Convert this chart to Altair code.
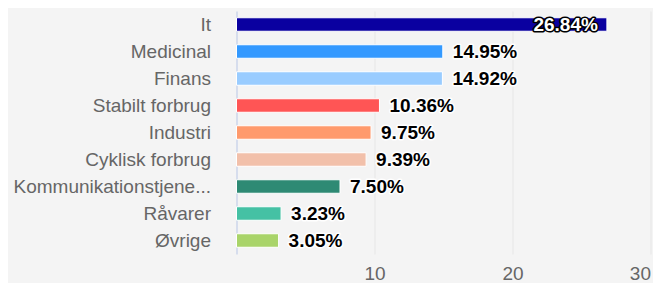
import altair as alt
import pandas as pd

categories = ["It", "Medicinal", "Finans", "Stabilt forbrug", "Industri",
              "Cyklisk forbrug", "Kommunikationstjenester", "Råvarer", "Øvrige"]
values = [26.84, 14.95, 14.92, 10.36, 9.75, 9.39, 7.50, 3.23, 3.05]
colors = ["#0a00a0", "#3399ff", "#99ccff", "#ff5555", "#ff9a6c",
          "#f2c0aa", "#2e8a74", "#45c1a4", "#a9d469"]
x_ticks = [10, 20, 30]

df = pd.DataFrame({"cat": categories, "value": values, "color": colors})
df["label"] = df["value"].map(lambda v: f"{v:.2f}%")

y_enc = alt.Y("cat:N", sort=categories, title=None,
              scale=alt.Scale(paddingInner=0.5, paddingOuter=0.25),
              axis=alt.Axis(labelFontSize=19, labelColor="#666666", labelFont="Liberation Sans",
                            ticks=False, labelPadding=26, domainColor="#ccd6eb", domainWidth=1.5,
                            labelLimit=0, grid=False,
                            labelExpr="length(datum.label) > 20 ? slice(datum.label, 0, 19) + '...' : datum.label"))
x_enc = alt.X("value:Q", title=None, scale=alt.Scale(domain=[0, 30], nice=False),
              axis=alt.Axis(values=x_ticks, labelFontSize=19, labelColor="#666666",
                            labelFont="Liberation Sans", ticks=False, domain=False,
                            gridColor="#e6e6e6", gridWidth=1, labelPadding=10))

base = alt.Chart(df)
bars = base.mark_bar(stroke="white", strokeWidth=1).encode(
    x=x_enc, y=y_enc, color=alt.Color("color:N", scale=None))

font = dict(font="Liberation Sans", fontSize=19, fontWeight="bold", baseline="middle")
ych = alt.Y("cat:N", sort=categories)
out_o = base.transform_filter("datum.value < 20").mark_text(
    align="left", dx=10, stroke="white", strokeWidth=3, strokeJoin="round", fill="white", **font
).encode(x="value:Q", y=ych, text="label:N")
out_t = base.transform_filter("datum.value < 20").mark_text(
    align="left", dx=10, fill="black", **font
).encode(x="value:Q", y=ych, text="label:N")
in_o = base.transform_filter("datum.value >= 20").mark_text(
    align="right", dx=-9, stroke="black", strokeWidth=3, strokeJoin="round", fill="black", **font
).encode(x="value:Q", y=ych, text="label:N")
in_t = base.transform_filter("datum.value >= 20").mark_text(
    align="right", dx=-9, fill="white", **font
).encode(x="value:Q", y=ych, text="label:N")

chart = alt.layer(bars, out_o, out_t, in_o, in_t).properties(
    width=414, height=243,
    autosize=alt.AutoSizeParams(type="none"),
    padding={"left": 228.5, "top": 3, "right": 2, "bottom": 29},
    background="#f4f4f4",
).configure_view(stroke=None)

chart.save("out.html", embed_options={"renderer": "svg", "actions": False})
